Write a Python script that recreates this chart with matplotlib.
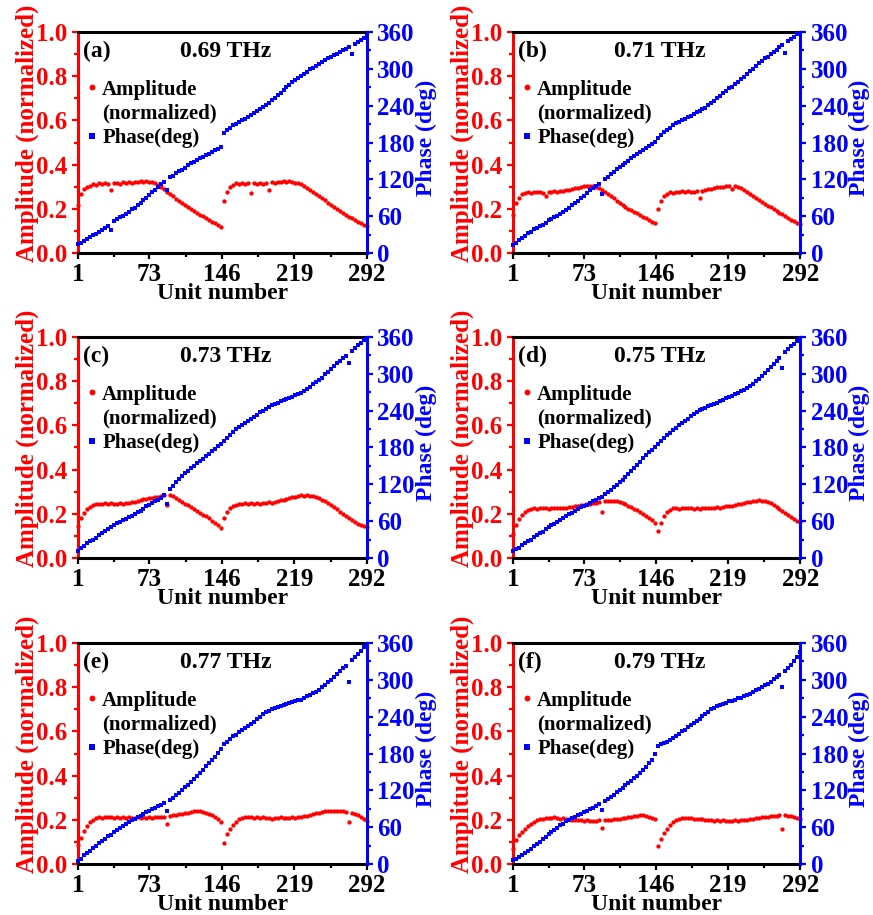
import numpy as np
import matplotlib
matplotlib.use("Agg")
import matplotlib.pyplot as plt
from matplotlib.lines import Line2D
from matplotlib.ticker import MultipleLocator, FixedLocator

plt.rcParams['font.family'] = ['Liberation Serif', 'DejaVu Serif']
plt.rcParams['font.weight'] = 'bold'

# === Data: unit numbers (every 3rd unit of each 146-unit half) ===
units = np.concatenate([np.arange(1, 146, 3), np.arange(148, 293, 3)])

tags = ["(a)", "(b)", "(c)", "(d)", "(e)", "(f)"]
freqs = ["0.69 THz", "0.71 THz", "0.73 THz", "0.75 THz", "0.77 THz", "0.79 THz"]

amp_069 = [0.215, 0.265, 0.288, 0.300, 0.305, 0.312, 0.308, 0.315, 0.312, 0.318,
           0.310, 0.285, 0.315, 0.318, 0.314, 0.320, 0.317, 0.320, 0.316, 0.322,
           0.320, 0.325, 0.322, 0.326, 0.322, 0.320, 0.315, 0.307, 0.298, 0.288,
           0.278, 0.266, 0.256, 0.246, 0.236, 0.226, 0.216, 0.207, 0.199, 0.190,
           0.182, 0.174, 0.166, 0.158, 0.150, 0.142, 0.134, 0.126, 0.118,
           0.235, 0.275, 0.298, 0.308, 0.315, 0.312, 0.318, 0.310, 0.315, 0.270,
           0.316, 0.312, 0.318, 0.313, 0.317, 0.285, 0.320, 0.316, 0.322, 0.320,
           0.325, 0.322, 0.325, 0.320, 0.318, 0.315, 0.310, 0.303, 0.295, 0.287,
           0.278, 0.268, 0.258, 0.248, 0.238, 0.228, 0.218, 0.208, 0.199, 0.190,
           0.181, 0.172, 0.164, 0.157, 0.150, 0.142, 0.135, 0.128, 0.122]
phase_069 = [14, 17, 20, 23, 26, 29, 31, 35, 38, 41,
             44, 38, 52, 55, 58, 61, 64, 67, 71, 74,
             78, 82, 86, 90, 95, 99, 103, 108, 112, 116,
             102, 123, 126, 130, 133, 136, 139, 143, 146, 149,
             152, 154, 157, 160, 162, 165, 167, 170, 173,
             196, 200, 204, 208, 210, 214, 216, 219, 222, 225,
             228, 231, 235, 238, 241, 245, 249, 253, 257, 261,
             266, 270, 274, 278, 282, 285, 289, 292, 295, 299,
             302, 305, 308, 311, 314, 317, 320, 322, 325, 328,
             330, 333, 336, 325, 340, 343, 347, 351, 354]

amp_071 = [0.170, 0.225, 0.250, 0.265, 0.270, 0.275, 0.272, 0.278, 0.275, 0.276,
           0.272, 0.258, 0.278, 0.275, 0.280, 0.278, 0.281, 0.279, 0.283, 0.285,
           0.290, 0.292, 0.295, 0.298, 0.302, 0.304, 0.305, 0.302, 0.298, 0.292,
           0.285, 0.277, 0.268, 0.258, 0.247, 0.236, 0.226, 0.217, 0.209, 0.201,
           0.193, 0.186, 0.179, 0.172, 0.165, 0.158, 0.150, 0.142, 0.134,
           0.200, 0.235, 0.258, 0.268, 0.274, 0.272, 0.278, 0.275, 0.279, 0.274,
           0.280, 0.276, 0.278, 0.282, 0.248, 0.280, 0.284, 0.288, 0.290, 0.294,
           0.297, 0.298, 0.300, 0.302, 0.304, 0.290, 0.302, 0.298, 0.292, 0.285,
           0.277, 0.268, 0.258, 0.248, 0.238, 0.229, 0.221, 0.214, 0.206, 0.198,
           0.190, 0.182, 0.175, 0.167, 0.159, 0.151, 0.144, 0.137, 0.130]
phase_071 = [13, 17, 21, 25, 28, 32, 35, 39, 41, 44,
             46, 49, 53, 56, 58, 61, 64, 67, 70, 74,
             78, 81, 85, 89, 93, 98, 102, 106, 109, 113,
             96, 120, 124, 128, 132, 137, 140, 144, 147, 150,
             154, 158, 161, 165, 168, 171, 174, 178, 181,
             187, 193, 197, 201, 204, 208, 211, 213, 216, 218,
             221, 224, 227, 229, 232, 235, 237, 241, 244, 248,
             252, 256, 260, 264, 268, 271, 275, 279, 283, 287,
             291, 296, 300, 305, 309, 313, 317, 320, 324, 327,
             331, 335, 339, 326, 346, 349, 352, 356, 359]

amp_073 = [0.145, 0.180, 0.205, 0.222, 0.232, 0.238, 0.242, 0.245, 0.243, 0.247,
           0.244, 0.248, 0.245, 0.243, 0.248, 0.246, 0.249, 0.247, 0.252, 0.255,
           0.258, 0.262, 0.265, 0.268, 0.270, 0.272, 0.276, 0.278, 0.281, 0.283,
           0.240, 0.284, 0.279, 0.272, 0.264, 0.255, 0.246, 0.238, 0.229, 0.221,
           0.212, 0.204, 0.196, 0.188, 0.179, 0.169, 0.159, 0.148, 0.137,
           0.180, 0.208, 0.225, 0.234, 0.240, 0.246, 0.243, 0.248, 0.245, 0.247,
           0.242, 0.248, 0.245, 0.250, 0.247, 0.252, 0.250, 0.255, 0.258, 0.262,
           0.264, 0.268, 0.270, 0.274, 0.277, 0.280, 0.283, 0.281, 0.284, 0.282,
           0.280, 0.276, 0.270, 0.264, 0.257, 0.249, 0.240, 0.230, 0.220, 0.210,
           0.200, 0.190, 0.180, 0.170, 0.162, 0.155, 0.149, 0.144, 0.140]
phase_073 = [12, 16, 20, 24, 27, 30, 33, 37, 40, 44,
             47, 50, 53, 57, 59, 62, 64, 67, 69, 72,
             75, 77, 80, 84, 87, 89, 92, 95, 98, 102,
             88, 112, 117, 123, 128, 133, 138, 142, 146, 150,
             154, 158, 162, 166, 170, 174, 178, 182, 186,
             190, 195, 200, 206, 210, 213, 217, 220, 223, 226,
             230, 233, 237, 240, 243, 246, 249, 251, 253, 255,
             257, 259, 261, 263, 265, 267, 269, 272, 275, 279,
             283, 286, 290, 294, 299, 303, 308, 312, 317, 321,
             325, 329, 317, 337, 342, 347, 351, 355, 358]

amp_075 = [0.110, 0.150, 0.175, 0.193, 0.207, 0.216, 0.221, 0.224, 0.222, 0.226,
           0.224, 0.227, 0.223, 0.226, 0.228, 0.225, 0.227, 0.224, 0.228, 0.230,
           0.232, 0.234, 0.236, 0.238, 0.240, 0.242, 0.245, 0.248, 0.250, 0.252,
           0.207, 0.256, 0.258, 0.259, 0.258, 0.257, 0.255, 0.250, 0.244, 0.237,
           0.230, 0.223, 0.215, 0.206, 0.198, 0.190, 0.181, 0.171, 0.160,
           0.120, 0.160, 0.190, 0.208, 0.218, 0.224, 0.227, 0.223, 0.226, 0.228,
           0.224, 0.227, 0.222, 0.226, 0.223, 0.227, 0.224, 0.226, 0.228, 0.225,
           0.229, 0.227, 0.231, 0.233, 0.235, 0.237, 0.240, 0.242, 0.246, 0.249,
           0.252, 0.255, 0.257, 0.259, 0.261, 0.260, 0.258, 0.254, 0.248, 0.240,
           0.232, 0.222, 0.212, 0.202, 0.193, 0.184, 0.176, 0.169, 0.163]
phase_075 = [11, 14, 17, 21, 24, 27, 30, 34, 37, 40,
             43, 47, 50, 53, 56, 59, 62, 65, 68, 71,
             74, 77, 80, 83, 85, 87, 90, 92, 94, 97,
             100, 104, 107, 111, 115, 119, 123, 127, 132, 137,
             142, 147, 152, 157, 163, 168, 172, 176, 181,
             186, 191, 196, 200, 204, 208, 212, 216, 220, 223,
             227, 231, 234, 238, 241, 243, 245, 247, 249, 251,
             253, 256, 258, 260, 262, 264, 267, 269, 272, 274,
             277, 280, 284, 288, 292, 297, 301, 306, 311, 316,
             321, 326, 309, 335, 340, 345, 349, 354, 358]

amp_077 = [0.085, 0.120, 0.148, 0.172, 0.188, 0.200, 0.207, 0.212, 0.209, 0.214,
           0.211, 0.215, 0.210, 0.213, 0.209, 0.212, 0.208, 0.211, 0.207, 0.210,
           0.212, 0.209, 0.211, 0.208, 0.212, 0.209, 0.213, 0.211, 0.215, 0.213,
           0.180, 0.218, 0.220, 0.222, 0.225, 0.227, 0.230, 0.233, 0.236, 0.238,
           0.240, 0.239, 0.236, 0.232, 0.227, 0.221, 0.214, 0.205, 0.190,
           0.095, 0.135, 0.158, 0.178, 0.192, 0.203, 0.210, 0.214, 0.211, 0.215,
           0.210, 0.213, 0.209, 0.212, 0.207, 0.210, 0.206, 0.209, 0.207, 0.211,
           0.208, 0.210, 0.207, 0.211, 0.209, 0.212, 0.214, 0.216, 0.219, 0.222,
           0.226, 0.229, 0.232, 0.236, 0.238, 0.240, 0.241, 0.240, 0.241, 0.239,
           0.238, 0.235, 0.190, 0.230, 0.226, 0.220, 0.213, 0.204, 0.193]
phase_077 = [5, 9, 14, 18, 22, 26, 30, 34, 37, 41,
             45, 48, 52, 56, 59, 62, 66, 69, 72, 74,
             77, 79, 81, 84, 86, 89, 91, 94, 96, 99,
             87, 105, 108, 112, 116, 120, 125, 129, 134, 139,
             144, 149, 154, 159, 164, 169, 175, 181, 188,
             195, 199, 203, 208, 211, 215, 218, 222, 225, 228,
             232, 236, 240, 244, 247, 250, 252, 254, 256, 258,
             259, 261, 263, 264, 266, 267, 268, 270, 273, 276,
             279, 281, 284, 288, 292, 296, 300, 304, 309, 314,
             319, 323, 296, 332, 337, 342, 347, 353, 358]

amp_079 = [0.070, 0.108, 0.130, 0.147, 0.160, 0.172, 0.182, 0.190, 0.198, 0.202,
           0.206, 0.208, 0.210, 0.209, 0.211, 0.208, 0.206, 0.207, 0.204, 0.202,
           0.200, 0.201, 0.198, 0.199, 0.196, 0.198, 0.195, 0.197, 0.195, 0.198,
           0.165, 0.199, 0.200, 0.198, 0.202, 0.204, 0.203, 0.207, 0.209, 0.212,
           0.214, 0.217, 0.219, 0.221, 0.220, 0.218, 0.215, 0.210, 0.203,
           0.080, 0.115, 0.140, 0.160, 0.177, 0.190, 0.198, 0.204, 0.208, 0.210,
           0.207, 0.209, 0.205, 0.206, 0.202, 0.203, 0.200, 0.198, 0.200, 0.197,
           0.199, 0.196, 0.198, 0.195, 0.197, 0.196, 0.198, 0.197, 0.199, 0.198,
           0.201, 0.203, 0.205, 0.207, 0.209, 0.211, 0.213, 0.215, 0.216, 0.218,
           0.219, 0.220, 0.158, 0.220, 0.219, 0.218, 0.215, 0.210, 0.204]
phase_079 = [6, 8, 11, 15, 18, 21, 25, 29, 33, 36,
             40, 44, 49, 53, 56, 59, 63, 66, 70, 72,
             75, 77, 80, 82, 85, 87, 90, 92, 95, 97,
             88, 103, 106, 109, 113, 117, 120, 124, 128, 132,
             136, 140, 144, 148, 153, 158, 164, 170, 180,
             192, 195, 197, 199, 202, 205, 209, 212, 216, 219,
             223, 226, 230, 233, 237, 241, 245, 248, 252, 255,
             257, 259, 261, 263, 265, 266, 268, 270, 271, 273,
             275, 277, 280, 283, 285, 288, 291, 294, 297, 301,
             304, 308, 288, 315, 319, 325, 331, 338, 345]

amps = [amp_069, amp_071, amp_073, amp_075, amp_077, amp_079]
phases = [phase_069, phase_071, phase_073, phase_075, phase_077, phase_079]

# === Layout ===
fig = plt.figure(figsize=(8.73, 9.15), dpi=100)
col_left = [0.0893, 0.5876]
col_width = [0.331, 0.329]
row_bottom = [0.7235, 0.3902, 0.0557]
ax_height = 0.2415

for k in range(6):
    row, col = divmod(k, 2)
    ax = fig.add_axes([col_left[col], row_bottom[row], col_width[col], ax_height])
    ax2 = ax.twinx()

    ax.plot(units, amps[k], 'o', ms=3.1, color='red', mew=0, clip_on=False)
    ax2.plot(units, phases[k], 's', ms=2.7, color='blue', mew=0, clip_on=False)

    ax.set_xlim(1, 292)
    ax.set_ylim(0, 1)
    ax2.set_ylim(0, 360)
    ax.set_xticks([1, 73, 146, 219, 292])
    ax.xaxis.set_minor_locator(FixedLocator([37, 109.5, 182.5, 255.5]))
    ax.yaxis.set_major_locator(MultipleLocator(0.2))
    ax.yaxis.set_minor_locator(MultipleLocator(0.1))
    ax2.yaxis.set_major_locator(MultipleLocator(60))
    ax2.yaxis.set_minor_locator(MultipleLocator(30))

    # spines
    for s in ['top', 'bottom']:
        ax.spines[s].set_linewidth(2.2)
        ax.spines[s].set_color('black')
        ax2.spines[s].set_visible(False)
    ax.spines['left'].set_color('red')
    ax.spines['left'].set_linewidth(2.2)
    ax.spines['right'].set_visible(False)
    ax2.spines['left'].set_visible(False)
    ax2.spines['right'].set_color('blue')
    ax2.spines['right'].set_linewidth(2.2)

    # ticks
    ax.tick_params(axis='x', which='both', direction='out', colors='black',
                   width=1.6, labelsize=18, pad=3)
    ax.tick_params(axis='y', which='both', direction='out', colors='red',
                   width=1.6, labelsize=18, pad=3)
    ax2.tick_params(axis='y', which='both', direction='out', colors='blue',
                    width=1.6, labelsize=18, pad=3)
    for a in (ax, ax2):
        a.tick_params(which='major', length=4.5)
        a.tick_params(which='minor', length=2.8)

    # axis labels
    ax.set_xlabel("Unit number", fontsize=17, fontweight='bold')
    ax.xaxis.set_label_coords(0.5, -0.135)
    ax.set_ylabel("Amplitude (normalized)", fontsize=18, fontweight='bold', color='red')
    ax.yaxis.set_label_coords(-0.135, 0.54)
    ax2.set_ylabel("Phase (deg)", fontsize=17, fontweight='bold', color='blue')
    ax2.yaxis.set_label_coords(1.17, 0.52)

    # panel tag and frequency
    ax.text(0.017, 0.91, tags[k], transform=ax.transAxes, fontsize=17,
            fontweight='bold', ha='left', va='center')
    ax.text(0.512, 0.91, freqs[k], transform=ax.transAxes, fontsize=17,
            fontweight='bold', ha='center', va='center')

    # legend
    handles = [Line2D([], [], ls='none', marker='o', color='red', ms=4.2, mew=0),
               Line2D([], [], ls='none', marker=''),
               Line2D([], [], ls='none', marker='s', color='blue', ms=3.8, mew=0)]
    ax2.legend(handles, ['Amplitude', '(normalized)', 'Phase(deg)'],
               loc='upper left', bbox_to_anchor=(0.03, 0.785), frameon=False,
               prop={'size': 15, 'weight': 'bold'}, handlelength=0.5,
               handletextpad=0.25, borderpad=0, borderaxespad=0, labelspacing=0.2)

fig.savefig("out.png", dpi=100)
